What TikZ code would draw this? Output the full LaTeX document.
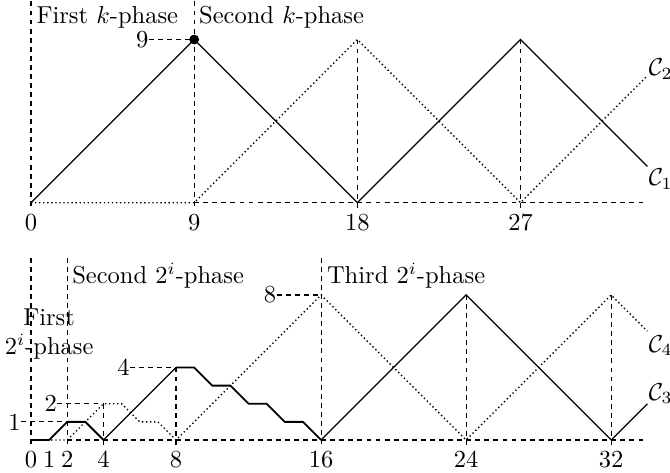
\documentclass[tikz,border=0pt]{standalone}
\begin{document}
\begin{tikzpicture}[x=0.26cm,y=0.26cm,
  curve/.style={line width=0.5pt},
  stair/.style={line width=0.75pt, line join=miter},
  dotc/.style={line width=0.55pt, dash pattern=on 0.55pt off 1.1pt},
  guide/.style={line width=0.45pt, dash pattern=on 2pt off 1.7pt},
  lbl/.style={inner sep=0pt},
  ticklbl/.style={inner sep=0pt, anchor=north}]
\useasboundingbox (-1.71,-14.909) rectangle (35.245,11.18);

% ---------------- top panel ----------------
\coordinate (a0) at (0,0);
\coordinate (a9) at (9,0);
\coordinate (a18) at (18,0);
\coordinate (a27) at (27,0);
\coordinate (aend) at (34,0);
\coordinate (p9) at (9,9);
\coordinate (p18) at (18,9);
\coordinate (p27) at (27,9);
\coordinate (c1end) at (34,2);
\coordinate (c2end) at (34,7);

\draw[guide] (0,11.1) -- (0,-0.3);
\draw[guide] (9,11.1) -- (9,-0.3);
\draw[guide] (p18) -- (18,-0.3);
\draw[guide] (p27) -- (27,-0.3);
\draw[guide] (a9) -- (aend);

\draw[dotc] (a0) -- (a9) -- (p18) -- (a27) -- (c2end);
\draw[curve] (a0) -- (p9) -- (a18) -- (p27) -- (c1end);

\node[lbl, anchor=east] (l9) at (6.5,9) {9};
\draw[guide] (l9) -- (p9);
\fill (p9) circle (2pt);

\node[ticklbl] (t0) at (0,-0.58) {0};
\node[ticklbl] (t9) at (9,-0.58) {9};
\node[ticklbl] (t18) at (18,-0.58) {18};
\node[ticklbl] (t27) at (27,-0.58) {27};

\node[lbl, anchor=base west] (ph1) at (0.28,9.89) {First $k$-phase};
\node[lbl, anchor=base west] (ph2) at (9.25,9.89) {Second $k$-phase};

\node[lbl, anchor=base west] (C2) at (34.05,7.0) {$\mathcal{C}_2$};
\node[lbl, anchor=base west] (C1) at (34.05,0.95) {$\mathcal{C}_1$};

% ---------------- bottom panel ----------------
\begin{scope}[shift={(0,-13.09)}]
\coordinate (b0) at (0,0);
\coordinate (b1) at (1,0);
\coordinate (b2) at (2,0);
\coordinate (b4) at (4,0);
\coordinate (b8) at (8,0);
\coordinate (b16) at (16,0);
\coordinate (b24) at (24,0);
\coordinate (b32) at (32,0);
\coordinate (bend) at (34,0);
\coordinate (q21) at (2,1);
\coordinate (q42) at (4,2);
\coordinate (q84) at (8,4);
\coordinate (q168) at (16,8);
\coordinate (q248) at (24,8);
\coordinate (q328) at (32,8);

\draw[guide] (0,10.05) -- (0,-0.3);
\draw[guide] (2,10.05) -- (2,-0.3);
\draw[guide] (q42) -- (4,-0.3);
\draw[guide] (q84) -- (8,-0.3);
\draw[guide] (16,10.05) -- (16,-0.3);
\draw[guide] (q248) -- (24,-0.3);
\draw[guide] (q328) -- (32,-0.3);
\draw[guide] (b2) -- (bend);

% C4 dotted
\draw[dotc] (b0) -- (b2) -- (q42) -- (5,2) -- (6,1) -- (7,1) -- (b8)
  -- (q168) -- (b24) -- (q328) -- (34,6);
% C3 solid
\draw[stair] (b0) -- (b1) -- (q21) -- (3,1) -- (b4);
\draw[curve] (b4) -- (q84);
\draw[stair] (q84) -- (9,4) -- (10,3) -- (11,3) -- (12,2) -- (13,2)
  -- (14,1) -- (15,1) -- (b16);
\draw[curve] (b16) -- (q248) -- (b32) -- (34,2);

\node[lbl, anchor=east] (l1) at (-0.55,1) {1};
\node[lbl, anchor=east] (l2) at (1.45,2) {2};
\node[lbl, anchor=east] (l4) at (5.47,4) {4};
\node[lbl, anchor=east] (l8) at (13.55,8) {8};
\draw[guide] (l1) -- (q21);
\draw[guide] (l2) -- (q42);
\draw[guide] (l4) -- (q84);
\draw[guide] (l8) -- (q168);

\node[ticklbl] (u0) at (0,-0.58) {0};
\node[ticklbl] (u1) at (1,-0.58) {1};
\node[ticklbl] (u2) at (2,-0.58) {2};
\node[ticklbl] (u4) at (4,-0.58) {4};
\node[ticklbl] (u8) at (8,-0.58) {8};
\node[ticklbl] (u16) at (16,-0.58) {16};
\node[ticklbl] (u24) at (24,-0.58) {24};
\node[ticklbl] (u32) at (32,-0.58) {32};

\node[lbl, align=center] (ph0) at (1.0,5.86) {First\\$2^i$-phase};
\node[lbl, anchor=base west] (ph3) at (2.25,8.63) {Second $2^i$-phase};
\node[lbl, anchor=base west] (ph4) at (16.3,8.63) {Third $2^i$-phase};

\node[lbl, anchor=base west] (C4) at (34.05,4.85) {$\mathcal{C}_4$};
\node[lbl, anchor=base west] (C3) at (34.05,2.2) {$\mathcal{C}_3$};
\end{scope}
\end{tikzpicture}
\end{document}
